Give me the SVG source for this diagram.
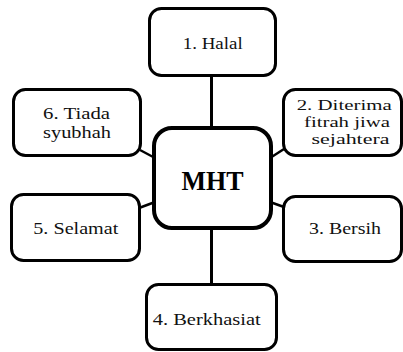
<svg xmlns="http://www.w3.org/2000/svg" width="403" height="352" viewBox="0 0 403 352">
<style>
.box{fill:#fff;stroke:#000;stroke-width:3}
.ctr{fill:#fff;stroke:#000;stroke-width:4}
.lbl{font-family:'Liberation Serif','DejaVu Serif',serif;font-size:17px;fill:#111;text-anchor:middle}
.sm{font-size:15.5px}
.big{font-family:'Liberation Serif','DejaVu Serif',serif;font-size:27px;font-weight:bold;fill:#000;text-anchor:middle}
.con{stroke:#000;stroke-width:3;fill:none}
.dia{stroke:#000;stroke-width:2.5;fill:none}
</style>
<rect width="403" height="352" fill="#fff"/>
<g id="connectors">
<line class="con" x1="211.5" y1="76" x2="211.5" y2="128"/>
<line class="con" x1="211.5" y1="228" x2="211.5" y2="285"/>
<line class="dia" x1="140" y1="150" x2="155" y2="158"/>
<line class="dia" x1="270" y1="158" x2="284" y2="149"/>
<line class="dia" x1="139" y1="208" x2="155" y2="202"/>
<line class="dia" x1="270" y1="202" x2="284" y2="207"/>
</g>
<g id="n1">
<rect class="box" x="149.5" y="8.5" width="126" height="67" rx="12"/>
<text class="lbl" x="212.7" y="48.5" textLength="60" lengthAdjust="spacingAndGlyphs">1. Halal</text>
</g>
<g id="n6">
<rect class="box" x="13.5" y="89.5" width="127" height="66" rx="12"/>
<text class="lbl" x="76.5" y="119.3" textLength="67" lengthAdjust="spacingAndGlyphs">6. Tiada</text>
<text class="lbl" x="77" y="137.7" textLength="68" lengthAdjust="spacingAndGlyphs">syubhah</text>
</g>
<g id="n2">
<rect class="box" x="283.5" y="89.5" width="118" height="66" rx="12"/>
<text class="lbl sm" x="344.2" y="110" textLength="95" lengthAdjust="spacingAndGlyphs">2. Diterima</text>
<text class="lbl sm" x="347" y="127" textLength="86" lengthAdjust="spacingAndGlyphs">fitrah jiwa</text>
<text class="lbl sm" x="350.5" y="144" textLength="78" lengthAdjust="spacingAndGlyphs">sejahtera</text>
</g>
<g id="center">
<rect class="ctr" x="154" y="128" width="117" height="100" rx="18"/>
<text class="big" x="212.5" y="190" textLength="62" lengthAdjust="spacingAndGlyphs">MHT</text>
</g>
<g id="n5">
<rect class="box" x="11.5" y="194.5" width="128" height="66" rx="12"/>
<text class="lbl" x="75.8" y="234.3" textLength="85" lengthAdjust="spacingAndGlyphs">5. Selamat</text>
</g>
<g id="n3">
<rect class="box" x="283.5" y="196.5" width="118" height="65" rx="12"/>
<text class="lbl" x="345" y="234" textLength="72" lengthAdjust="spacingAndGlyphs">3. Bersih</text>
</g>
<g id="n4">
<rect class="box" x="146.5" y="284.5" width="130" height="65" rx="12"/>
<text class="lbl" x="206.7" y="325" textLength="108" lengthAdjust="spacingAndGlyphs">4. Berkhasiat</text>
</g>
</svg>
